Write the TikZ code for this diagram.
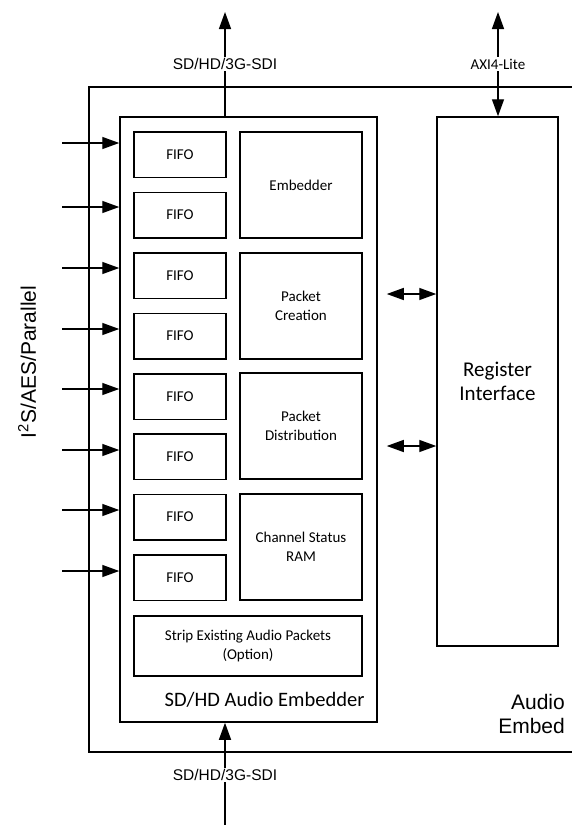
\documentclass[tikz,border=0pt]{standalone}
\usepackage{fontspec}
\setmainfont{Carlito}
\newfontfamily\arialf{Liberation Sans}
\usetikzlibrary{arrows.meta}
\begin{document}
\begin{tikzpicture}[x=1pt,y=-1pt,
  blk/.style 2 args={draw, line width=1.5pt, inner sep=0pt, minimum width=#1, minimum height=#2, align=center, font=\fontsize{15}{19}\selectfont},
  fifo/.style={blk={92pt}{45.5pt}},
  func/.style={blk={122pt}{106pt}},
  arr/.style={line width=1.4pt, -{Triangle[length=17pt,width=12pt]}},
  dbl/.style={line width=1.4pt, {Triangle[length=17pt,width=12pt]}-{Triangle[length=17pt,width=12pt]}},
  lbl/.style={fill=white, inner sep=1.5pt, font=\arialf\fontsize{15.5}{18}\selectfont},
  big/.style={font=\fontsize{21}{24}\selectfont, align=center}
]
\useasboundingbox (0,0) rectangle (572,825);
% outer Audio Embed box (open on the right, beyond the picture)
\coordinate (otr) at (572,87);
\coordinate (otl) at (89,87);
\coordinate (obl) at (89,752);
\coordinate (obr) at (572,752);
\draw[line width=1.5pt] (otr) -- (otl) -- (obl) -- (obr);

% inner embedder box and register interface
\node[blk={257pt}{605pt}] (emb) at (248.5,419.5) {};
\node[blk={121pt}{529pt}, font=\fontsize{21}{24}\selectfont] (reg) at (497.5,381.5) {Register\\Interface};

% FIFOs
\foreach \i/\y in {1/154.5,2/215,3/275.5,4/336,5/396.5,6/456.5,7/517,8/577.5}
  \node[fifo] (f\i) at (180,\y) {FIFO};

% function blocks
\node[func] (embd) at (301,185) {Embedder};
\node[func] (pc) at (301,306) {Packet\\Creation};
\node[func] (pd) at (301,426) {Packet\\Distribution};
\node[func] (csr) at (301,547) {Channel Status\\RAM};
\node[blk={228pt}{60pt}] (strip) at (248,646) {Strip Existing Audio Packets\\(Option)};

\node[anchor=base east, font=\fontsize{20.5}{24}\selectfont] (embl) at (368,706) {SD/HD Audio Embedder};
\node[anchor=east, align=right, font=\arialf\fontsize{21}{24}\selectfont, inner sep=0pt] (ael) at (565,714) {Audio\\Embed};

% input arrows
\foreach \i/\y in {1/143,2/207,3/268,4/329,5/389,6/450,7/510,8/571}{
  \coordinate (in\i) at (62,\y);
  \draw[arr] (in\i) -- (in\i -| emb.west);
}
\node[rotate=90, font=\arialf\fontsize{21}{24}\selectfont] (inl) at (27,362) {I\textsuperscript{2}S/AES/Parallel};

% top SDI output
\coordinate (sdiout) at (225,12);
\draw[arr] (emb.north -| sdiout) -- (sdiout);
\node[lbl] (sdioutl) at (225,64) {SD/HD/3G-SDI};

% bottom SDI input
\coordinate (sdiin) at (225,826);
\draw[arr] (sdiin) -- (emb.south -| sdiin);
\node[lbl] (sdiinl) at (225,775) {SD/HD/3G-SDI};

% AXI4-Lite
\coordinate (axi) at (498,12);
\draw[dbl] (axi) -- (reg.north -| axi);
\node[lbl, font=\fontsize{15}{18}\selectfont] (axil) at (498,64) {AXI4-Lite};

% register links
\foreach \y in {294,446}{
  \draw[dbl, shorten <=9pt] (emb.east |- 0,\y) -- (reg.west |- 0,\y);
}
\end{tikzpicture}
\end{document}
